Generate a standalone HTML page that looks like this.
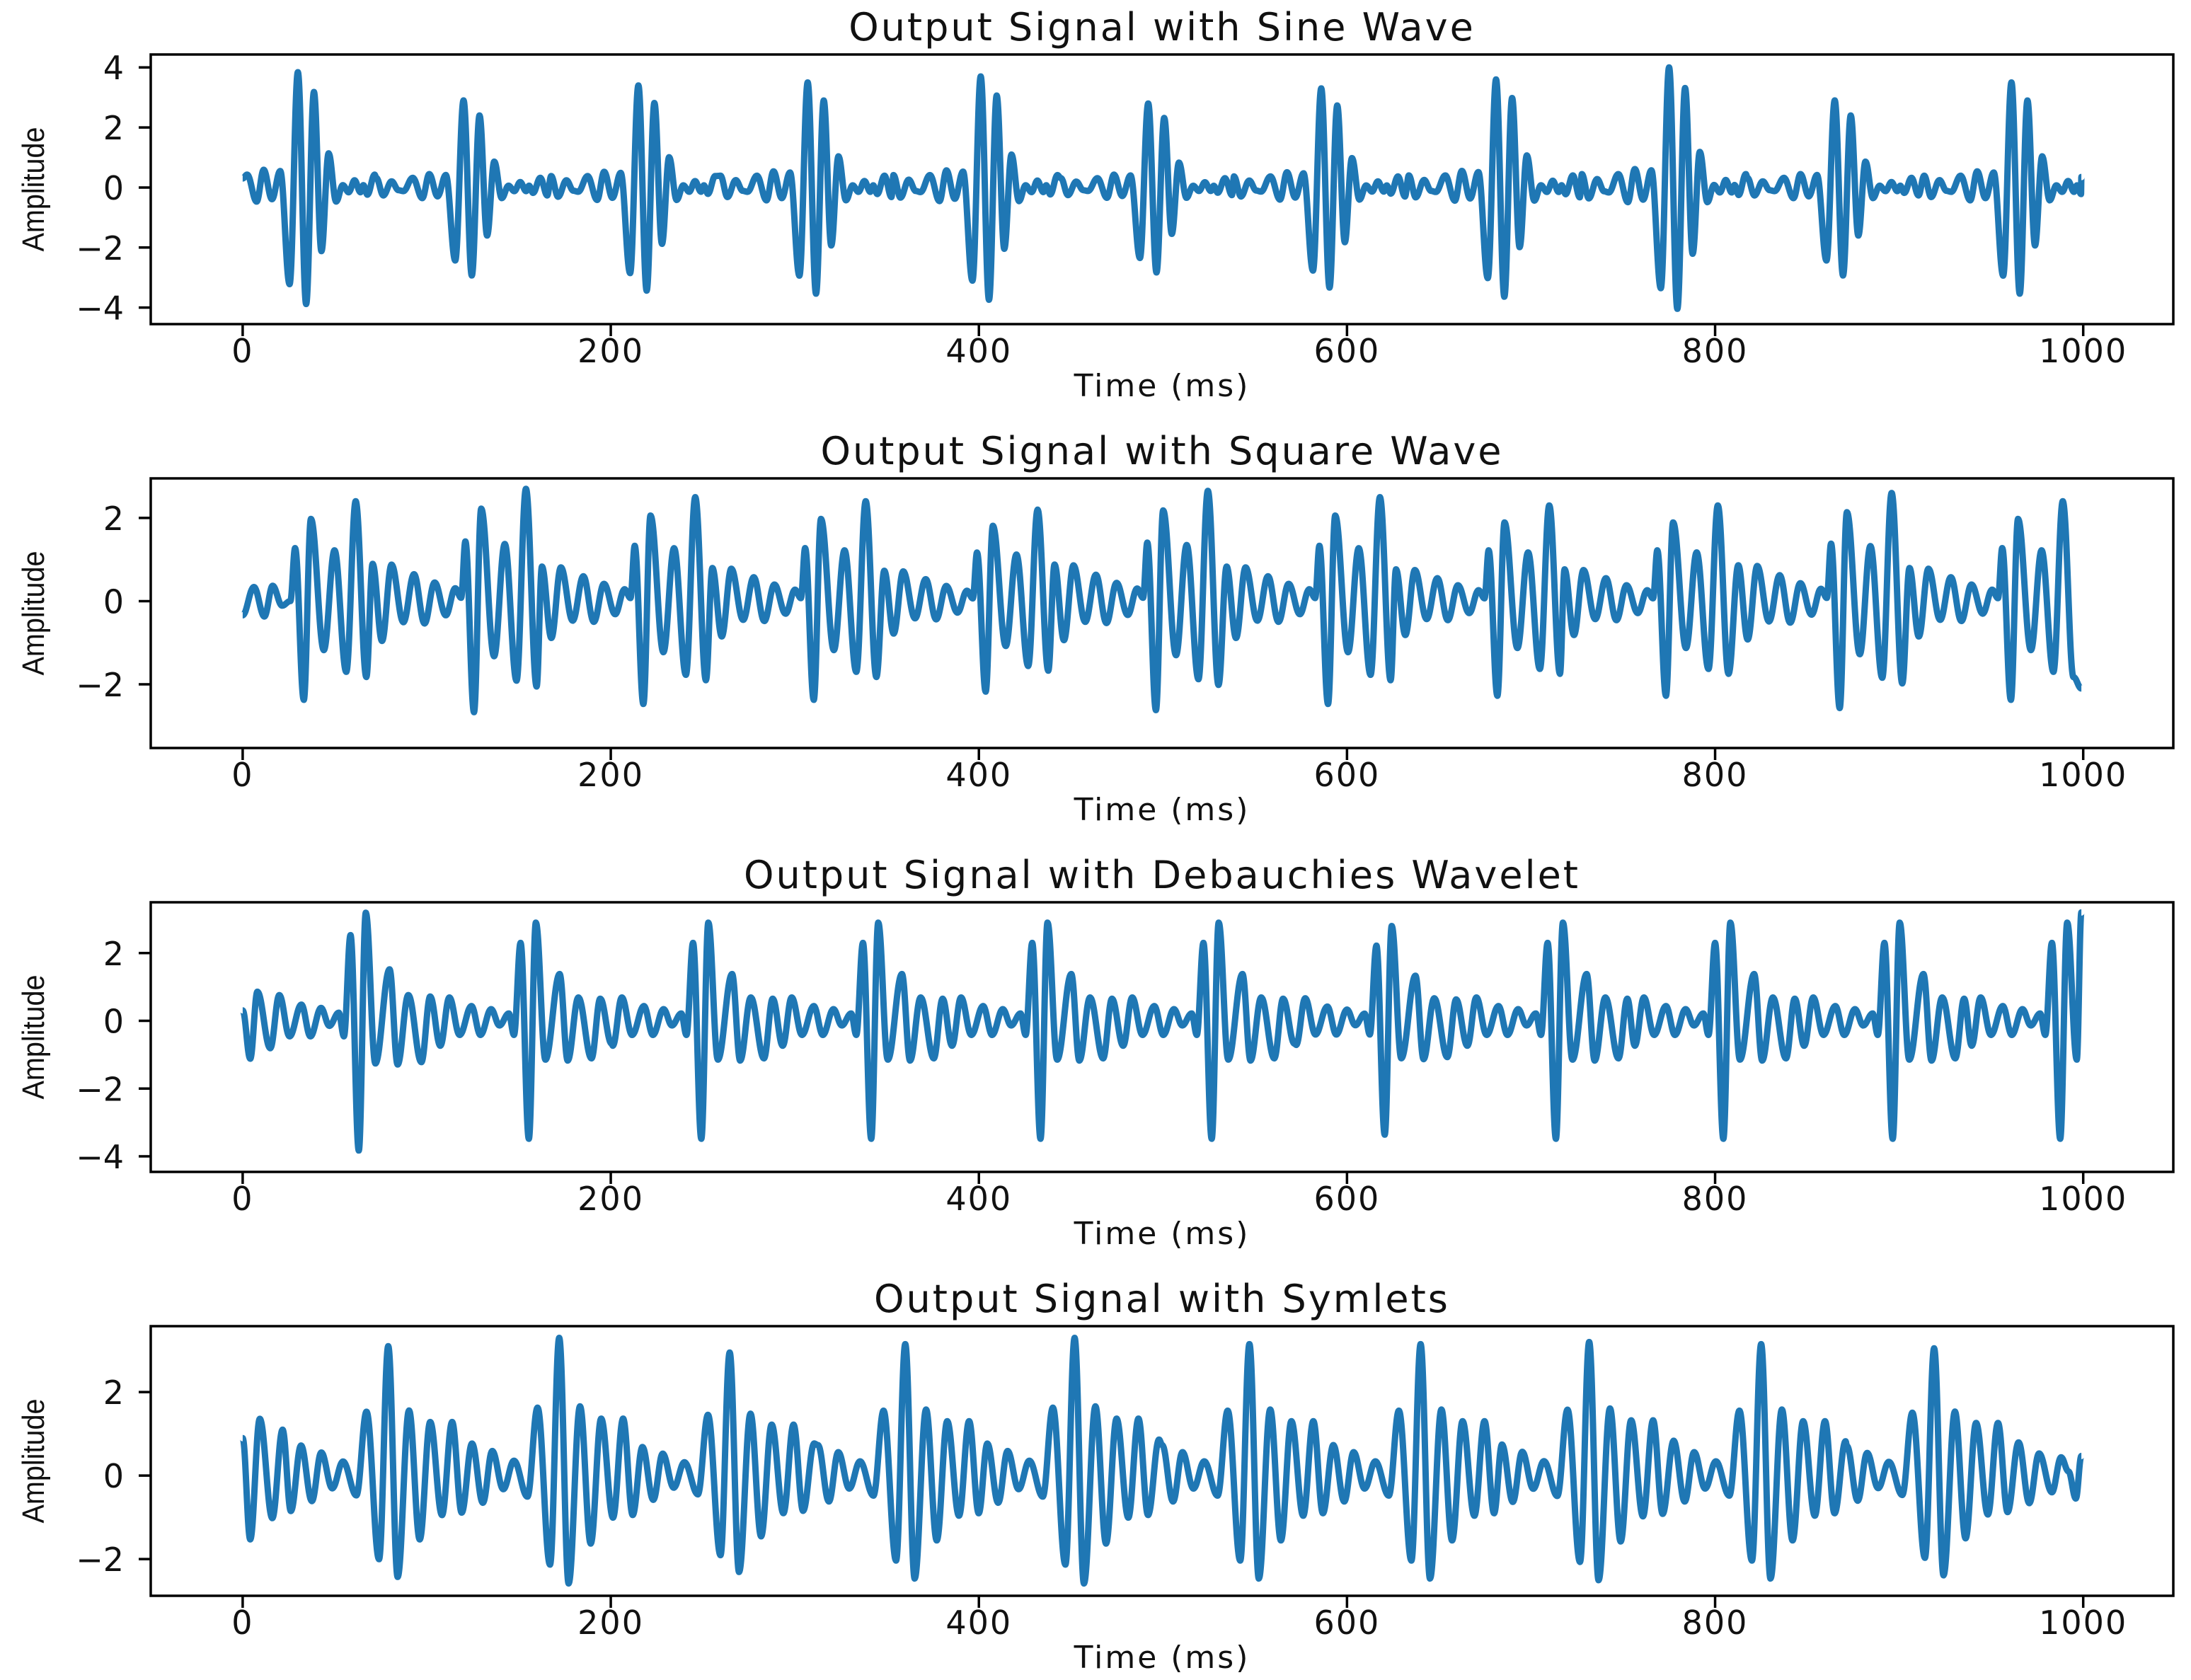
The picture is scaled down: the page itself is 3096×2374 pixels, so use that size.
<!DOCTYPE html>
<html><head><meta charset="utf-8"><style>
html,body{margin:0;padding:0;background:#fff;}
svg{display:block;}
text{font-family:"DejaVu Sans","Liberation Sans",sans-serif;fill:#111;}
.yl{font-family:"Liberation Sans",sans-serif;}
</style></head><body>
<svg id="fig" width="3096" height="2374" viewBox="0 0 3096 2374" xmlns="http://www.w3.org/2000/svg"></svg>
<script>
// ---- data ----
const titles = ["Output Signal with Sine Wave","Output Signal with Square Wave","Output Signal with Debauchies Wavelet","Output Signal with Symlets"];
const xTicks = [0,200,400,600,800,1000];
const yTicks1 = [-4,-2,0,2,4];
const yTicks2 = [-2,0,2];
const yTicks3 = [-4,-2,0,2];
const yTicks4 = [-2,0,2];
const yLim1 = [-4.55,4.43], yLim2 = [-3.53,2.95], yLim3 = [-4.46,3.5], yLim4 = [-2.88,3.58];
// burst template extrema: [offset ms from burst peak, value]
const tmpl1 = [[-47.4,0.43],[-43.6,-0.35],[-39.1,0.27],[-35.3,-0.12],[-32.7,-0.16],[-27.6,0.43],[-22.4,-0.47],[-18.6,0.59],[-14.1,-0.39],[-9.6,0.55],[-4.5,-3.22],[0,3.84],[4.5,-3.88],[8.7,3.18],[12.8,-2.12],[16.7,1.14],[20.8,-0.47],[24.4,0.08],[27.6,-0.16],[30.8,0.24],[34.0,-0.16],[35.6,0.08],[37.8,-0.24],[41.7,0.43],[45.5,-0.35],[50,0.27]];
const tmpl2 = [[-50.4,0.90],[-45.3,-0.96],[-40.1,0.88],[-33.7,-0.51],[-27.9,0.65],[-22.2,-0.54],[-16.7,0.45],[-10.6,-0.34],[-5.5,0.31],[-2.3,0.08],[0,1.44],[4.7,-2.68],[8.6,2.23],[15.6,-1.33],[21.4,1.38],[27.8,-1.92],[32.9,2.71],[38.7,-2.06],[44.5,1.72],[49.6,-1.38]];
const tmpl3 = [[-43.6,-0.81],[-38.7,0.76],[-33.1,-0.46],[-26.7,0.48],[-21.8,-0.46],[-16.0,0.38],[-11.5,-0.15],[-6.4,0.24],[-3.6,-0.46],[0,2.53],[4.5,-3.83],[8.3,3.19],[13.5,-1.26],[21.2,1.52],[25.6,-1.29],[31.4,0.76],[38.5,-1.22],[43.3,0.72],[49.4,-0.74]];
const tmpl4 = [[-47.4,0.73],[-41.5,-0.62],[-36.4,0.56],[-30.4,-0.31],[-24.6,0.34],[-17.3,-0.48],[-11.8,1.55],[-5.0,-2.03],[0,3.14],[5.1,-2.46],[11.3,1.58],[17.1,-1.55],[22.8,1.30],[29.2,-0.96],[34.7,1.30],[39.9,-0.90],[45.9,0.82],[51.7,-0.68]];
// burst times (ms) and burst peak values
const burstT1 = [30,120,215,307,401,492,586,681,775,865,961];
const burstV1 = [3.84,2.9,3.4,3.5,3.7,2.8,3.3,3.6,4.0,2.9,3.5];
const burstT2 = [28.5,121,213,305.6,399,491.5,585,677,768.6,863,956];
const burstV2 = [2.4,2.7,2.5,2.4,2.2,2.65,2.5,2.3,2.3,2.6,2.4];
const burstT3 = [58.6,151,244.7,337,429,522,616,709,800,892,983];
const burstV3 = [3.19,2.9,2.9,2.9,2.9,2.9,2.8,2.9,2.9,2.9,2.9];
const burstT4 = [79.1,172,264.6,360,452,547,640,731.6,825,919];
const burstV4 = [3.1,3.3,2.95,3.15,3.3,3.15,3.15,3.2,3.15,3.05];
// lead-in / tail points [t, value]
const lead1 = [[0,0.3]];
const lead2 = [[0,-0.34],[6.1,0.34],[11.8,-0.37],[16.3,0.37],[21.4,-0.11],[25.9,0]];
const lead3 = [[0,0.31],[4.1,-1.12],[8.0,0.86]];
const lead4 = [[0,0.90],[4.1,-1.53],[9.3,1.36],[16.1,-1.02],[21.7,1.10],[26.2,-0.85]];
const tail1 = [[999,0.35]];
const tail2 = [[999,-2.1]];
const tail3 = [[999,3.2]];
const tail4 = [[976,0.53],[983,-0.40],[988,0.44],[992,0.1],[996,-0.55],[999,0.47]];

// ---- layout ----
const NS = "http://www.w3.org/2000/svg";
const svg = document.getElementById('fig');
const L = 213, R = 3071, H = 381;
const tops = [77,676,1275,1874];
const xMin = -49.95, xMax = 1048.95;
function mk(tag, attrs, parent){const e=document.createElementNS(NS,tag);for(const k in attrs)e.setAttribute(k,attrs[k]);(parent||svg).appendChild(e);return e;}
function xs(t){return L + (t - xMin)/(xMax - xMin)*(R-L);}

function buildSeries(tmpl, bt, bv, lead, tail){
  const tp = Math.max(...tmpl.map(p=>p[1]));
  const pts = lead.slice();
  let last = lead.length? lead[lead.length-1][0] : -1;
  const tailStart = tail.length? tail[0][0] : 1e9;
  for(let i=0;i<bt.length;i++){
    const hi = i===bt.length-1 ? 1e9 : bt[i+1]+tmpl[0][0];
    const s = bv[i]/tp;
    for(const p of tmpl){
      const t = bt[i]+p[0];
      if(t<hi && t>last+0.5 && t<tailStart && t<=999){pts.push([t,p[1]*s]); last=t;}
    }
  }
  for(const p of tail){ if(p[0]>last) pts.push(p); }
  return pts;
}

const panels = [
  {tmpl:tmpl1,bt:burstT1,bv:burstV1,lead:lead1,tail:tail1,ticks:yTicks1,lim:yLim1},
  {tmpl:tmpl2,bt:burstT2,bv:burstV2,lead:lead2,tail:tail2,ticks:yTicks2,lim:yLim2},
  {tmpl:tmpl3,bt:burstT3,bv:burstV3,lead:lead3,tail:tail3,ticks:yTicks3,lim:yLim3},
  {tmpl:tmpl4,bt:burstT4,bv:burstV4,lead:lead4,tail:tail4,ticks:yTicks4,lim:yLim4}
];

panels.forEach((p,i)=>{
  const top = tops[i], bot = top+H;
  const g = mk('g',{});
  
  
  const ys = v => bot - (v - p.lim[0])/(p.lim[1]-p.lim[0])*H;
  const ti = mk('text',{x:(L+R)/2,y:top-20,'text-anchor':'middle','font-size':54,'letter-spacing':3},g);
  ti.textContent = titles[i];
  
  
  const pts = buildSeries(p.tmpl,p.bt,p.bv,p.lead,p.tail);
  let d = '';
  pts.forEach((q,k)=>{
    const x = xs(q[0]), y = ys(q[1]);
    if(k===0){ d += 'M'+x.toFixed(1)+' '+y.toFixed(1); return; }
    const x0 = xs(pts[k-1][0]), y0 = ys(pts[k-1][1]);
    const dx = (x-x0)*0.38;
    d += ' C'+(x0+dx).toFixed(1)+' '+y0.toFixed(1)+' '+(x-dx).toFixed(1)+' '+y.toFixed(1)+' '+x.toFixed(1)+' '+y.toFixed(1);
  });
  const line = mk('path',{d:d,fill:'none',stroke:'#1f77b4','stroke-width':9,'stroke-linejoin':'round','stroke-linecap':'butt'},g);
  
  
  const fr = mk('rect',{x:L,y:top,width:R-L,height:H,fill:'none',stroke:'#000','stroke-width':3.5},g);
  
  
  xTicks.forEach(t=>{
    const x = xs(t);
    const tk = mk('line',{x1:x,x2:x,y1:bot,y2:bot+17,stroke:'#000','stroke-width':3.5},g);
    
    
    const lb = mk('text',{x:x,y:bot+54,'text-anchor':'middle','font-size':46,'letter-spacing':2},g);
    lb.textContent = String(t);
    
    
  });
  p.ticks.forEach(v=>{
    const y = ys(v);
    const tk = mk('line',{x1:L-17,x2:L,y1:y,y2:y,stroke:'#000','stroke-width':3.5},g);
    
    
    const lb = mk('text',{x:L-38,y:y+17,'text-anchor':'end','font-size':46},g);
    lb.textContent = v<0 ? '\u2212'+Math.abs(v) : String(v);
    
    
  });
  const xl = mk('text',{x:(L+R)/2,y:bot+102,'text-anchor':'middle','font-size':44,'letter-spacing':3},g);
  xl.textContent = 'Time (ms)';
  
  
  const cy = top+H/2;
  const yl = mk('text',{x:0,y:0,'text-anchor':'middle','font-size':44,'class':'yl',transform:'translate(62,'+cy+') rotate(-90) scale(0.9,1)'},g);
  yl.textContent = 'Amplitude';
  
  
});
</script>
</body></html>
